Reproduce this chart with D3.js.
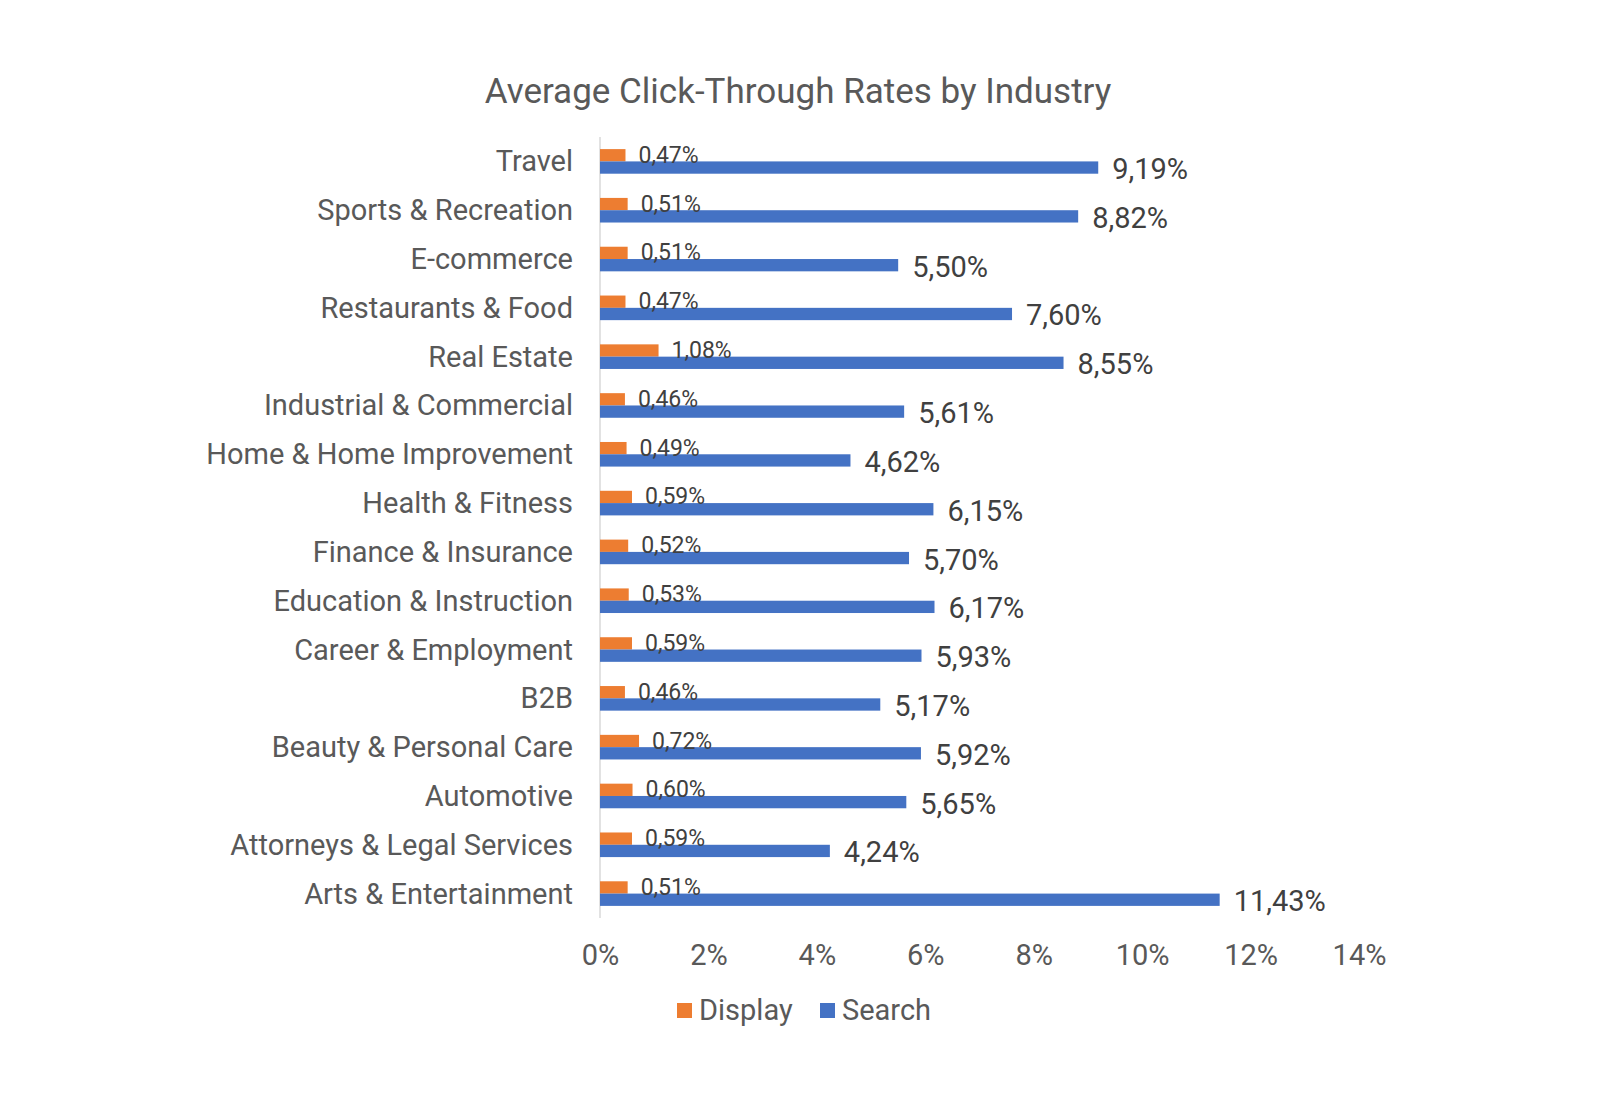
<!DOCTYPE html>
<html><head><meta charset="utf-8">
<script src="https://cdn.jsdelivr.net/npm/d3@7"></script>
<style>body{margin:0;background:#fff;} text{font-family:Roboto, "Noto Sans", sans-serif;}</style>
</head><body>
<svg id="chart" width="1600" height="1100"></svg>
<script>
const categories = ["Travel","Sports & Recreation","E-commerce","Restaurants & Food","Real Estate","Industrial & Commercial","Home & Home Improvement","Health & Fitness","Finance & Insurance","Education & Instruction","Career & Employment","B2B","Beauty & Personal Care","Automotive","Attorneys & Legal Services","Arts & Entertainment"];
const displayValues = [0.47,0.51,0.51,0.47,1.08,0.46,0.49,0.59,0.52,0.53,0.59,0.46,0.72,0.60,0.59,0.51];
const searchValues = [9.19,8.82,5.50,7.60,8.55,5.61,4.62,6.15,5.70,6.17,5.93,5.17,5.92,5.65,4.24,11.43];
const xTicks = [0,2,4,6,8,10,12,14];
const seriesNames = ["Display","Search"];
const colors = ["#ED7D31","#4472C4"];

const svg = d3.select("#chart");
const x = d3.scaleLinear().domain([0,14]).range([600,1359]);
const y = d3.scaleBand().domain(categories).range([137,918]);
const barH = 12.3;
const fmt = v => v.toFixed(2).replace(".", ",") + "%";

svg.append("text").attr("x",798).attr("y",91).attr("text-anchor","middle")
  .attr("dominant-baseline","central").attr("font-size",35).attr("fill","#595959")
  .text("Average Click-Through Rates by Industry");

// axis line
svg.append("line").attr("x1",x(0)).attr("x2",x(0)).attr("y1",137).attr("y2",918)
  .attr("stroke","#d9d9d9").attr("stroke-width",1.5);

// category labels
svg.selectAll(".cat").data(categories).join("text")
  .attr("x",573).attr("y",d=>y(d)+y.bandwidth()/2)
  .attr("text-anchor","end").attr("dominant-baseline","central")
  .attr("font-size",29).attr("fill","#595959").text(d=>d);

// x tick labels
const xAxis = d3.axisBottom(x).tickValues(xTicks).tickFormat(d=>d+"%").tickSize(0).tickPadding(0);
const gx = svg.append("g").attr("transform","translate(0,944)").call(xAxis);
gx.select(".domain").remove();
gx.selectAll("text").attr("font-size",29).attr("fill","#595959").attr("dy","0.71em")
  .style("font-family","Roboto, sans-serif");

// display bars
svg.selectAll(".dbar").data(categories).join("rect")
  .attr("x",x(0)).attr("y",d=>y(d)+y.bandwidth()/2-barH)
  .attr("width",(d,i)=>x(displayValues[i])-x(0)).attr("height",barH).attr("fill",colors[0]);
// search bars
svg.selectAll(".sbar").data(categories).join("rect")
  .attr("x",x(0)).attr("y",d=>y(d)+y.bandwidth()/2)
  .attr("width",(d,i)=>x(searchValues[i])-x(0)).attr("height",barH).attr("fill",colors[1]);

// display labels
svg.selectAll(".dlab").data(categories).join("text")
  .attr("x",(d,i)=>x(displayValues[i])+13).attr("y",d=>y(d)+y.bandwidth()/2-barH/2)
  .attr("dominant-baseline","central").attr("font-size",23).attr("fill","#404040")
  .text((d,i)=>fmt(displayValues[i]));
// search labels
svg.selectAll(".slab").data(categories).join("text")
  .attr("x",(d,i)=>x(searchValues[i])+14).attr("y",d=>y(d)+y.bandwidth()/2+barH/2+1.5)
  .attr("dominant-baseline","central").attr("font-size",29).attr("fill","#404040")
  .text((d,i)=>fmt(searchValues[i]));

// legend
const legendX = [677, 820];
seriesNames.forEach((s,i)=>{
  svg.append("rect").attr("x",legendX[i]).attr("y",1003).attr("width",15).attr("height",15).attr("fill",colors[i]);
  svg.append("text").attr("x",legendX[i]+22).attr("y",1010).attr("dominant-baseline","central")
    .attr("font-size",29).attr("fill","#595959").text(s);
});
</script>
</body></html>
